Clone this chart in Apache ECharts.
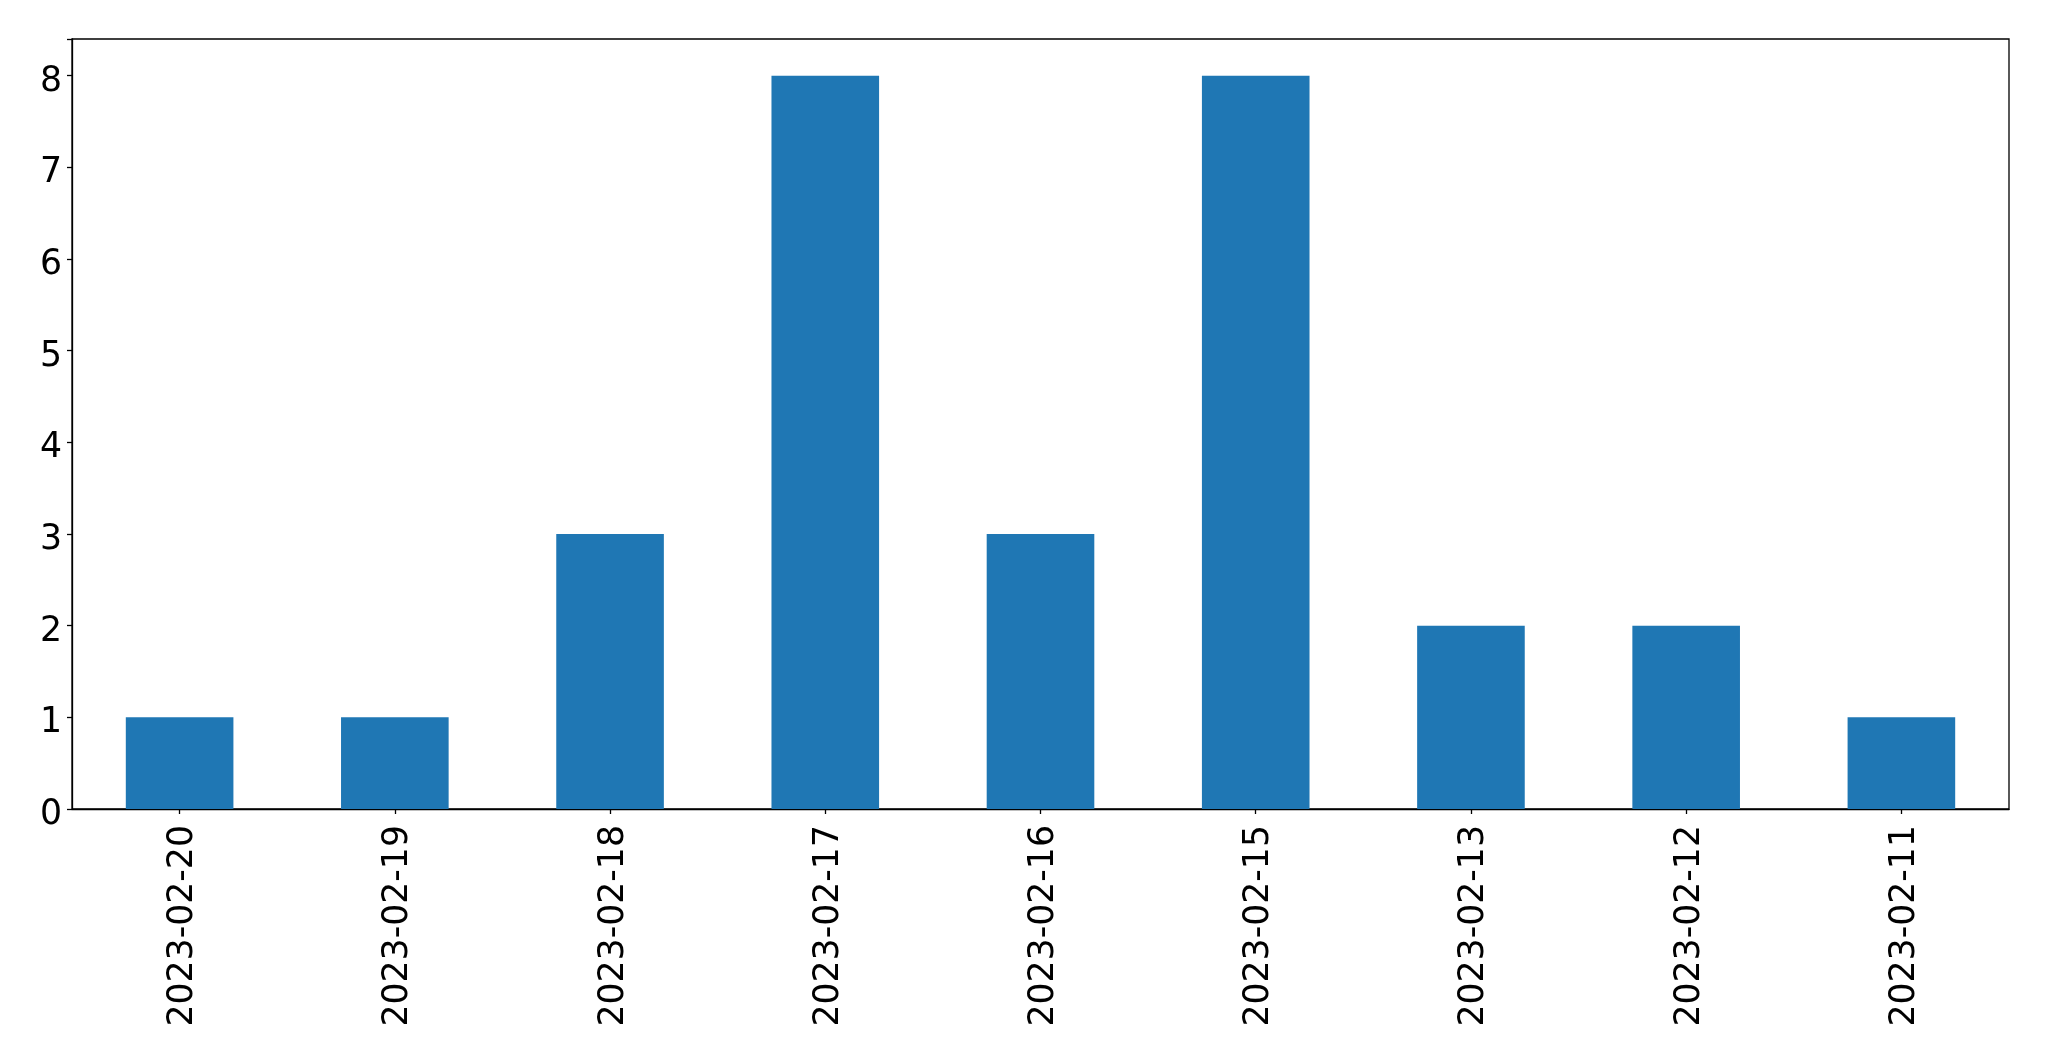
<!DOCTYPE html>
<html>
<head>
<meta charset="utf-8">
<script src="https://cdn.jsdelivr.net/npm/echarts@6/dist/echarts.min.js"></script>
<style>
html,body{margin:0;padding:0;background:#fff;}
#chart{width:2049px;height:1061px;}
</style>
</head>
<body>
<div id="chart"></div>
<script>
const categories = ["2023-02-20","2023-02-19","2023-02-18","2023-02-17","2023-02-16","2023-02-15","2023-02-13","2023-02-12","2023-02-11"];
const values = [1,1,3,8,3,8,2,2,1];
const yTicks = [0,1,2,3,4,5,6,7,8];

const chart = echarts.init(document.getElementById('chart'), null, {renderer:'canvas'});
const font = 'DejaVu Sans';
chart.setOption({
  animation: false,
  backgroundColor: '#ffffff',
  grid: {left: 72, top: 39, right: 40, bottom: 252, show: true, borderColor: '#000', borderWidth: 1.3, backgroundColor: 'transparent', containLabel: false},
  xAxis: {
    type: 'category',
    data: categories,
    boundaryGap: true,
    axisLine: {show: true, lineStyle: {color: '#000', width: 1.3}},
    axisTick: {show: true, alignWithLabel: true, length: 5, lineStyle: {color: '#000', width: 1.3}},
    axisLabel: {rotate: 90, color: '#000', fontFamily: font, fontSize: 34.7, margin: 16, interval: 0,
      formatter: v => '{a|' + v + '}',
      rich: {a: {color: '#000', fontFamily: font, fontSize: 34.7, padding: [7,0,0,0]}}},
    splitLine: {show: false}
  },
  yAxis: {
    type: 'value',
    min: 0, max: 8.4, interval: 1,
    axisLine: {show: true, lineStyle: {color: '#000', width: 1.3}},
    axisTick: {show: true, length: 5, lineStyle: {color: '#000', width: 1.3}},
    axisLabel: {color: '#000', fontFamily: font, fontSize: 34.7, margin: 10,
      formatter: v => yTicks.includes(v) ? '{a|' + v + '}' : '',
      rich: {a: {color: '#000', fontFamily: font, fontSize: 34.7, padding: [12,0,0,0]}}},
    splitLine: {show: false}
  },
  series: [{
    type: 'bar',
    data: values,
    barWidth: '50%',
    itemStyle: {color: '#1f77b4'}
  }]
});
</script>
</body>
</html>
